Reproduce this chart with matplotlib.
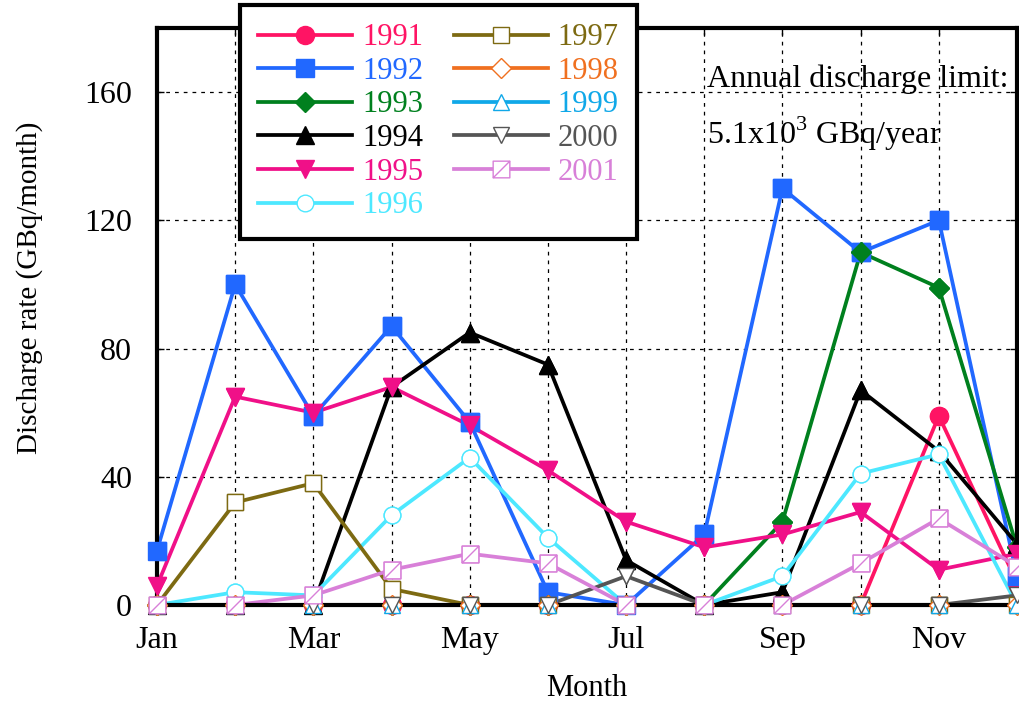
import numpy as np
import matplotlib
matplotlib.use("Agg")
import matplotlib.pyplot as plt
from matplotlib.path import Path

plt.rcParams["font.family"] = ["Liberation Serif", "DejaVu Serif"]
plt.rcParams["mathtext.fontset"] = "custom"
plt.rcParams["mathtext.rm"] = "Liberation Serif"

months = np.arange(1, 13)
month_labels = ["Jan", "", "Mar", "", "May", "", "Jul", "", "Sep", "", "Nov", ""]

y1991 = [0, 0, 0, 0, 0, 0, 0, 0, 0, 0, 59, 7]
y1992 = [17, 100, 59, 87, 57, 4, 0, 22, 130, 110, 120, 9]
y1993 = [0, 0, 0, 0, 0, 0, 0, 0, 26, 110, 99, 18]
y1994 = [0, 0, 0, 68, 85, 75, 14, 0, 4, 67, 48, 19]
y1995 = [6, 65, 60, 68, 56, 42, 26, 18, 22, 29, 11, 16]
y1996 = [0, 4, 3, 28, 46, 21, 0, 0, 9, 41, 47, 0]
y1997 = [0, 32, 38, 5, 0, 0, 0, 0, 0, 0, 0, 0]
y1998 = [0, 0, 0, 0, 0, 0, 0, 0, 0, 0, 0, 0]
y1999 = [0, 0, 0, 0, 0, 0, 0, 0, 0, 0, 0, 0]
y2000 = [0, 0, 0, 0, 0, 0, 9, 0, 0, 0, 0, 3]
y2001 = [0, 0, 3, 11, 16, 13, 0, 0, 0, 13, 27, 12]

# square with a diagonal slash
slash_sq = Path([(-1, -1), (1, -1), (1, 1), (-1, 1), (-1, -1), (-1, -1), (1, 1)],
                [Path.MOVETO, Path.LINETO, Path.LINETO, Path.LINETO, Path.CLOSEPOLY,
                 Path.MOVETO, Path.LINETO])

series = [
    ("1991", y1991, "#ff1464", "o", True, 13),
    ("1992", y1992, "#2168ff", "s", True, 13),
    ("1993", y1993, "#00801e", "D", True, 10),
    ("1994", y1994, "#000000", "^", True, 13),
    ("1995", y1995, "#f01088", "v", True, 13),
    ("1996", y1996, "#4de8ff", "o", False, 12),
    ("1997", y1997, "#7d6a12", "s", False, 12),
    ("1998", y1998, "#f07020", "D", False, 10),
    ("1999", y1999, "#10a8e8", "^", False, 12),
    ("2000", y2000, "#555555", "v", False, 12),
    ("2001", y2001, "#d880d8", slash_sq, False, 12),
]

fig = plt.figure(figsize=(10.19, 7.04), dpi=100)
ax = fig.add_axes([157 / 1019, 1 - 605 / 704, 860 / 1019, 577 / 704])

handles = []
for name, vals, col, mk, filled, ms in series:
    face = col if filled else "white"
    h, = ax.plot(months, vals, color=col, lw=2.7, marker=mk, ms=ms,
                 mfc=face, mec=col, mew=1.0, label=name, zorder=2)
    ax.plot(months, vals, ls="none", marker=mk, ms=ms, mfc=face, mec=col,
            mew=1.0, zorder=3, clip_on=False)
    handles.append(h)

ax.set_xlim(1, 12)
ax.set_ylim(0, 180)
ax.set_xticks(months)
ax.set_xticklabels(month_labels)
ax.set_yticks([0, 40, 80, 120, 160])
ax.grid(True, color="black", ls=(0, (3, 4)), lw=0.9)
ax.set_axisbelow(True)
for s in ax.spines.values():
    s.set_linewidth(3)
ax.tick_params(direction="in", top=True, right=True, length=5, width=1,
               labelsize=23)
ax.tick_params(axis="x", pad=15)
ax.tick_params(axis="y", pad=18)

ax.set_xlabel("Month", fontsize=22, labelpad=14)
ax.set_ylabel("Discharge rate (GBq/month)", fontsize=21)
ax.yaxis.set_label_coords(-0.133, 0.55)

ax.text(8.03, 161.6, "Annual discharge limit:", fontsize=23, va="baseline")
ax.text(8.03, 143.7, r"5.1x10$^3$ GBq/year", fontsize=23, va="baseline")

leg = ax.legend(handles=handles, ncol=2, loc="upper left",
                bbox_to_anchor=(240 / 1019, 1 - 5 / 704),
                bbox_transform=fig.transFigure, borderaxespad=0,
                fontsize=22, numpoints=1, handlelength=3.07, handletextpad=0.33,
                columnspacing=1.0, labelspacing=0.15, borderpad=0.6,
                fancybox=False, framealpha=1, edgecolor="black")
leg.get_frame().set_linewidth(3)
leg.set_zorder(10)
for t, s in zip(leg.get_texts(), series):
    t.set_color(s[2])

fig.savefig("out.png", dpi=100)
